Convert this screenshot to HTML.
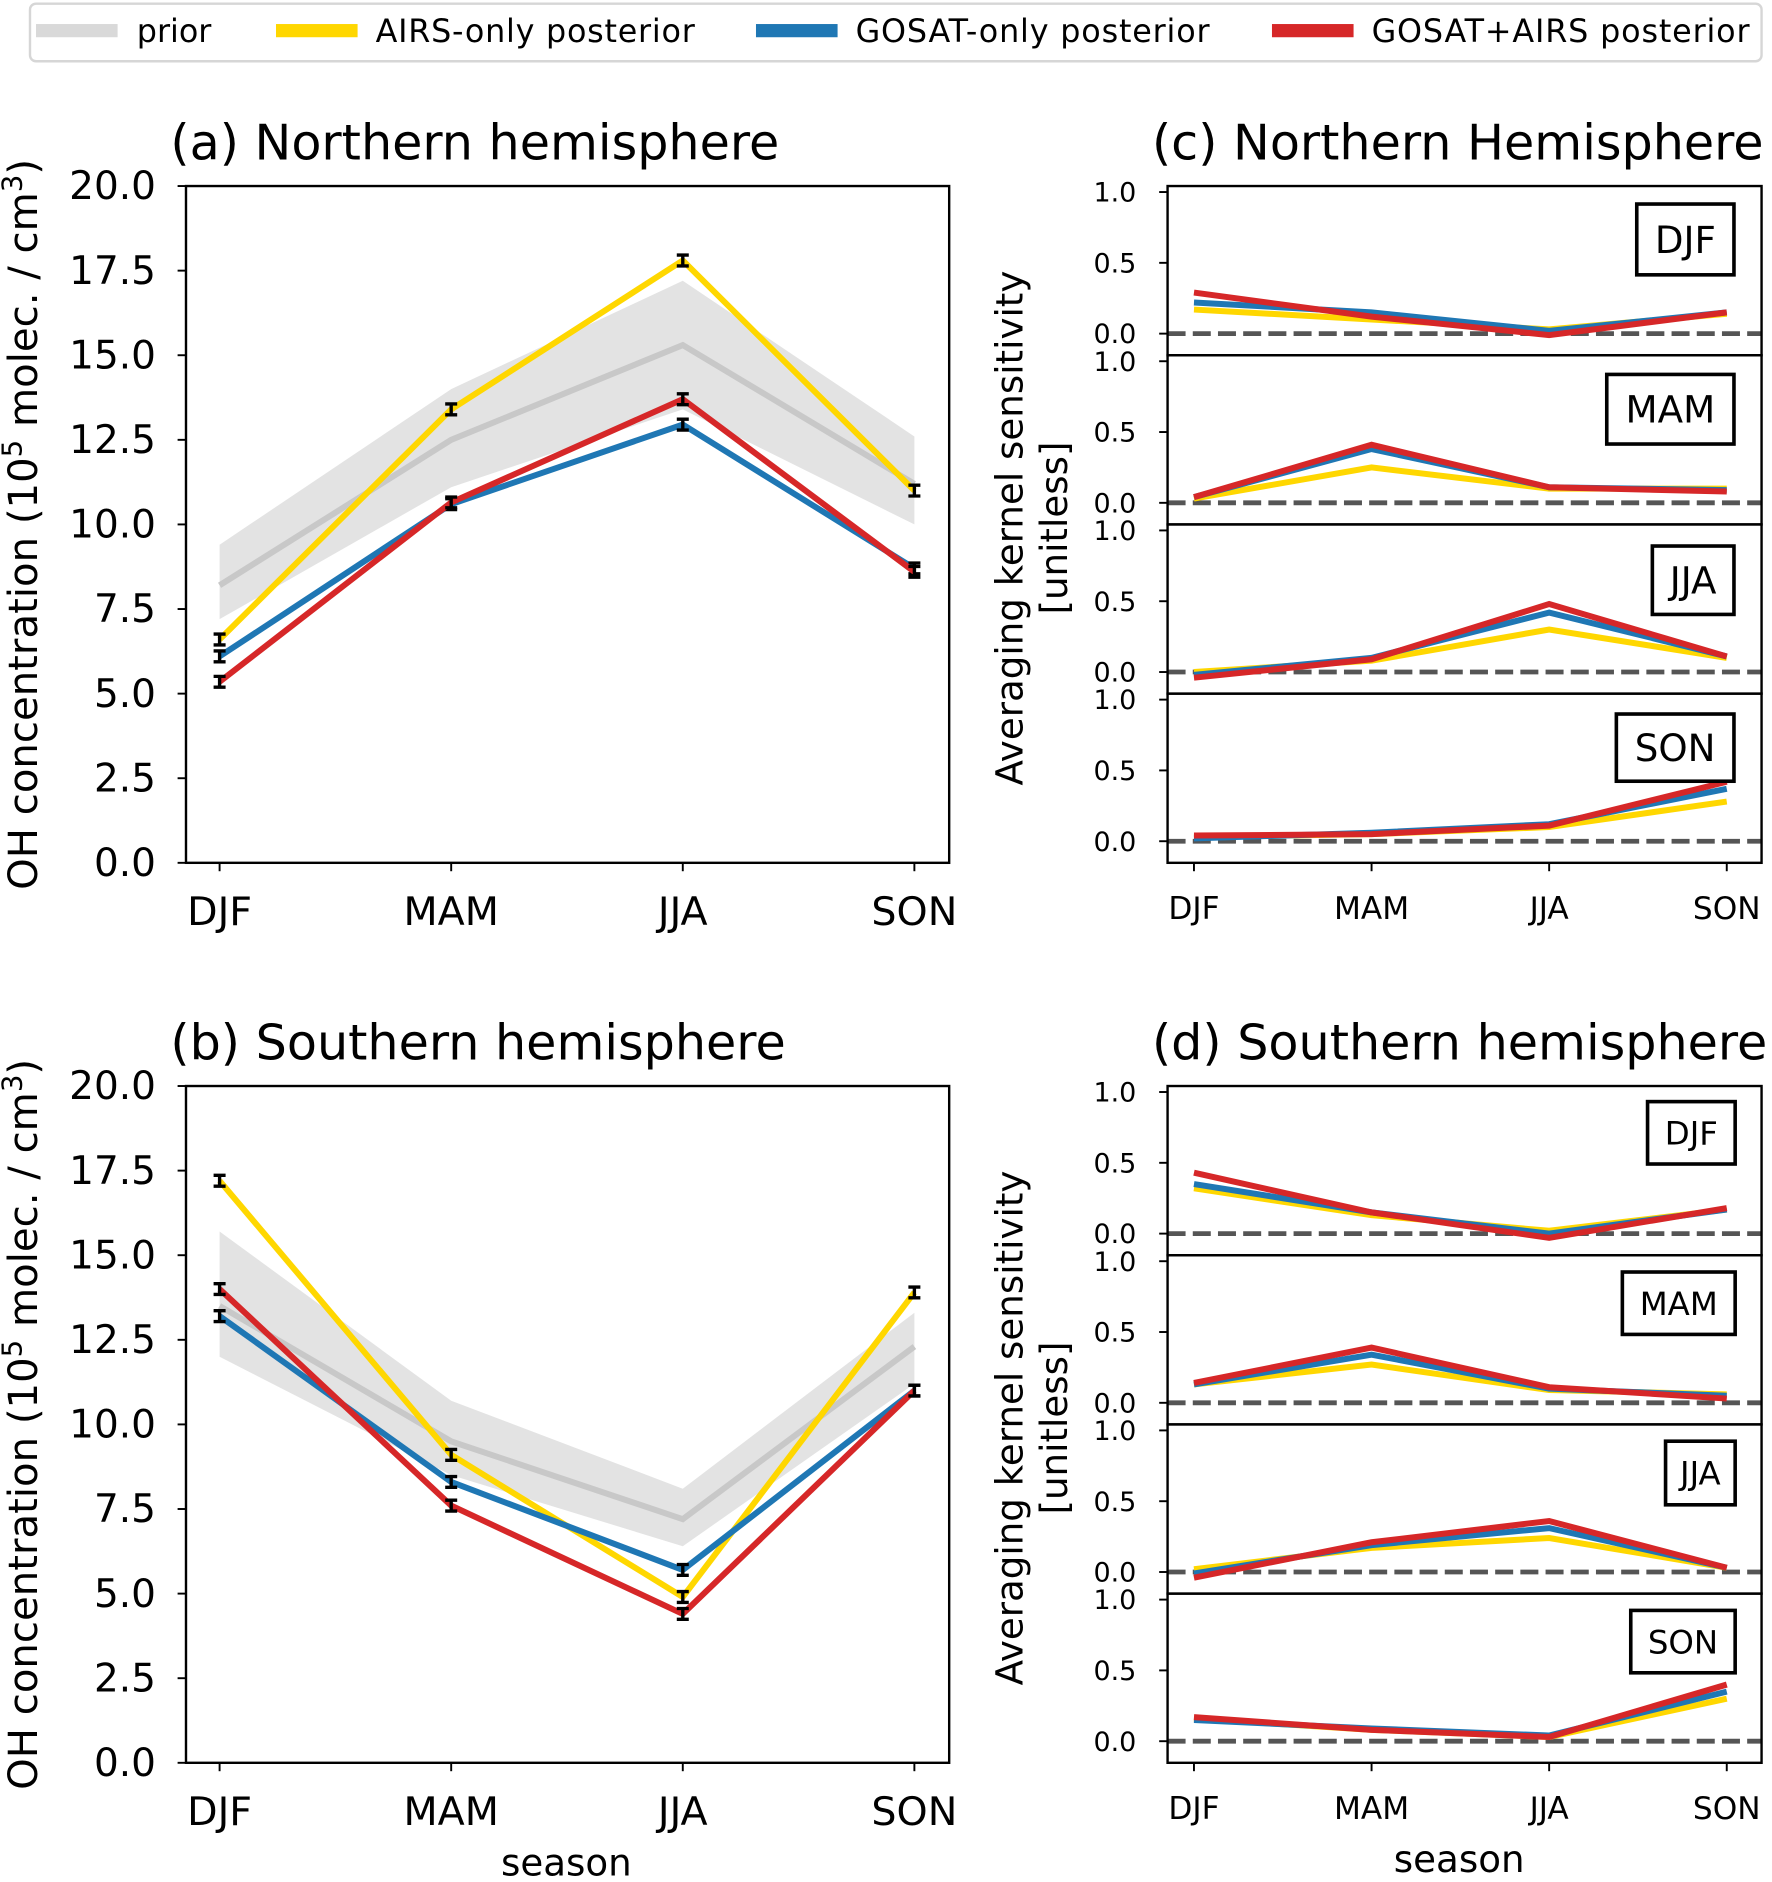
<!DOCTYPE html>
<html><head><meta charset="utf-8"><style>
html,body{margin:0;padding:0;background:#fff;}
svg{display:block;font-family:"DejaVu Sans","Liberation Sans",sans-serif;}
</style></head><body>
<svg id="fig" width="1772" height="1882" viewBox="0 0 1476.7 1568.3" xmlns="http://www.w3.org/2000/svg">
<g>
<rect x="25" y="3" width="1443" height="48" rx="5" fill="#fff" stroke="#d6d6d6" stroke-width="2"/>
<g><rect x="30" y="20" width="68" height="11" fill="#d9d9d9"/><text x="114" y="35" font-size="26.5">prior</text></g>
<g><rect x="230" y="20" width="68" height="11" fill="#ffd700"/><text x="313" y="35" font-size="26.5" textLength="266">AIRS-only posterior</text></g>
<g><rect x="630" y="20" width="68" height="11" fill="#1f77b4"/><text x="713" y="35" font-size="26.5" textLength="295">GOSAT-only posterior</text></g>
<g><rect x="1060" y="20" width="68" height="11" fill="#d62728"/><text x="1143" y="35" font-size="26.5" textLength="315">GOSAT+AIRS posterior</text></g>
</g>
</svg>
<script>
const seasons = ["DJF","MAM","JJA","SON"];
// panel (a) NH
const aPrior = [8.2,12.5,15.3,11.2];
const aPriorLo = [7.2,11.1,13.4,10.0];
const aPriorHi = [9.4,14.0,17.2,12.6];
const aAirs = [6.6,13.4,17.8,11.0];
const aGosat = [6.1,10.6,12.95,8.7];
const aComb = [5.35,10.65,13.7,8.6];
// panel (b) SH
const bPrior = [13.5,9.5,7.2,12.3];
const bPriorLo = [12.0,8.5,6.4,11.2];
const bPriorHi = [15.7,10.7,8.1,13.3];
const bAirs = [17.2,9.1,4.9,13.9];
const bGosat = [13.2,8.3,5.7,11.0];
const bComb = [14.0,7.6,4.4,11.0];
const errSize = 0.16;
const concTicks = ["0.0","2.5","5.0","7.5","10.0","12.5","15.0","17.5","20.0"];
const akTicks = ["0.0","0.5","1.0"];
const subLabels = ["DJF","MAM","JJA","SON"];
// averaging kernels NH (c)
const cAirs = [[0.17,0.1,0.03,0.14],[0.03,0.25,0.1,0.1],[0.0,0.08,0.3,0.1],[0.03,0.05,0.1,0.28]];
const cGosat = [[0.22,0.15,0.02,0.15],[0.04,0.38,0.11,0.09],[-0.02,0.1,0.42,0.11],[0.02,0.06,0.12,0.37]];
const cComb = [[0.29,0.12,-0.01,0.15],[0.04,0.41,0.11,0.08],[-0.04,0.09,0.48,0.11],[0.04,0.05,0.11,0.42]];
// averaging kernels SH (d)
const dAirs = [[0.32,0.13,0.02,0.17],[0.13,0.27,0.09,0.06],[0.02,0.17,0.24,0.03],[0.16,0.08,0.03,0.3]];
const dGosat = [[0.35,0.15,0.0,0.17],[0.13,0.34,0.1,0.05],[-0.01,0.19,0.31,0.03],[0.15,0.09,0.04,0.35]];
const dComb = [[0.43,0.15,-0.03,0.18],[0.14,0.39,0.11,0.03],[-0.04,0.21,0.36,0.03],[0.17,0.08,0.03,0.4]];

const NS="http://www.w3.org/2000/svg";
const svg=document.getElementById("fig");
function el(tag,attrs,parent,text){const e=document.createElementNS(NS,tag);for(const k in attrs)e.setAttribute(k,attrs[k]);if(text!==undefined)e.textContent=text;(parent||svg).appendChild(e);return e;}
const C={prior:"#c8c8c8",band:"#e3e3e3",airs:"#ffd700",gosat:"#1f77b4",comb:"#d62728"};

function concPanel(name,top,title,prior,lo,hi,airs,gosat,comb,showSeason){
  const L=155,R=791,T=top,B=top+564;
  const xs=i=>183+i*193;
  const ys=v=>B-(v/20)*(B-T);
  const g=el("g",{});
  
  
  const t=el("text",{x:142,y:T-22,"font-size":41},g,title);
  
  let pts=[];for(let i=0;i<4;i++)pts.push(xs(i)+","+ys(hi[i]));for(let i=3;i>=0;i--)pts.push(xs(i)+","+ys(lo[i]));
  const band=el("polygon",{points:pts.join(" "),fill:C.band},g);
  
  const series=[["prior-line",prior,C.prior,false],["airs-line",airs,C.airs,true],["gosat-line",gosat,C.gosat,true],["combined-line",comb,C.comb,true]];
  series.forEach(s=>{
    const pl=el("polyline",{points:s[1].map((v,i)=>xs(i)+","+ys(v)).join(" "),fill:"none",stroke:s[2],"stroke-width":5},g);
    
    if(s[3]) s[1].forEach((v,i)=>{
      const eb=el("path",{d:`M${xs(i)-5},${ys(v+errSize)}H${xs(i)+5}M${xs(i)},${ys(v+errSize)}V${ys(v-errSize)}M${xs(i)-5},${ys(v-errSize)}H${xs(i)+5}`,stroke:"#000","stroke-width":2.8,fill:"none"},g);
      
    });
  });
  const fr=el("rect",{x:L,y:T,width:R-L,height:B-T,fill:"none",stroke:"#000","stroke-width":2},g);
  
  concTicks.forEach(tk=>{const y=ys(parseFloat(tk));
    el("line",{x1:L-7,x2:L,y1:y,y2:y,stroke:"#000","stroke-width":1.6},g);
    const tl=el("text",{x:L-25,y:y+11,"font-size":32.5,"text-anchor":"end"},g,tk);
    });
  seasons.forEach((s,i)=>{el("line",{x1:xs(i),x2:xs(i),y1:B,y2:B+7,stroke:"#000","stroke-width":1.6},g);
    const tl=el("text",{x:xs(i),y:B+52,"font-size":33,"text-anchor":"middle"},g,s);
    });
  const yl=el("text",{transform:`translate(31,${(T+B)/2}) rotate(-90)`,"font-size":33.5,"text-anchor":"middle"},g);
  
  yl.innerHTML='OH concentration (10<tspan dy="-13" font-size="23">5</tspan><tspan dy="13"> molec. / cm</tspan><tspan dy="-13" font-size="23">3</tspan><tspan dy="13">)</tspan>';
  if(showSeason){const st=el("text",{x:472,y:B+94,"font-size":31,"text-anchor":"middle"},g,"season");
    }
}
concPanel("panel-a-northern",155,"(a) Northern hemisphere",aPrior,aPriorLo,aPriorHi,aAirs,aGosat,aComb,false);
concPanel("panel-b-southern",905,"(b) Southern hemisphere",bPrior,bPriorLo,bPriorHi,bAirs,bGosat,bComb,true);

function akPanel(name,top,title,airs,gosat,comb,boxes,fs,showSeason){
  const L=973,R=1468,H=141;
  const xs=i=>995+i*148;
  const g=el("g",{});
  
  const t=el("text",{x:960,y:top-22,"font-size":41},g,title);
  
  for(let k=0;k<4;k++){
    const T=top+k*H;
    const ys=v=>T+5+(1-v)*118;
    const sg=el("g",{},g);
    
    const dl=el("line",{x1:L,x2:R,y1:ys(0),y2:ys(0),stroke:"#555","stroke-width":4,"stroke-dasharray":"15,6"},sg);
    
    [["airs-line",airs[k],C.airs],["gosat-line",gosat[k],C.gosat],["combined-line",comb[k],C.comb]].forEach(s=>{
      const pl=el("polyline",{points:s[1].map((v,i)=>xs(i)+","+ys(v)).join(" "),fill:"none",stroke:s[2],"stroke-width":5},sg);
      });
    const fr=el("rect",{x:L,y:T,width:R-L,height:H,fill:"none",stroke:"#000","stroke-width":2},sg);
    
    akTicks.forEach(tk=>{const y=ys(parseFloat(tk));
      el("line",{x1:L-7,x2:L,y1:y,y2:y,stroke:"#000","stroke-width":1.6},sg);
      const tl=el("text",{x:L-26,y:y+8,"font-size":22.5,"text-anchor":"end"},sg,tk);
      });
    const b=boxes[k];
    const bx=el("rect",{x:b[0],y:T+b[1],width:b[2],height:b[3],fill:"#fff",stroke:"#000","stroke-width":3},sg);
    
    const bt=el("text",{x:b[0]+b[2]/2,y:T+b[1]+b[3]/2+fs*0.36,"font-size":fs,"text-anchor":"middle"},sg,subLabels[k]);
    
  }
  const B=top+4*H;
  seasons.forEach((s,i)=>{el("line",{x1:xs(i),x2:xs(i),y1:B,y2:B+7,stroke:"#000","stroke-width":1.6},g);
    const tl=el("text",{x:xs(i),y:B+47,"font-size":26,"text-anchor":"middle"},g,s);
    });
  const yl=el("text",{transform:`translate(852,${top+285}) rotate(-90)`,"font-size":31,"text-anchor":"middle"},g,"Averaging kernel sensitivity");
  
  const yl2=el("text",{transform:`translate(889,${top+285}) rotate(-90)`,"font-size":31,"text-anchor":"middle"},g,"[unitless]");
  
  if(showSeason){const st=el("text",{x:1216,y:B+91,"font-size":31,"text-anchor":"middle"},g,"season");
    }
}
akPanel("panel-c-northern-ak",155,"(c) Northern Hemisphere",cAirs,cGosat,cComb,
  [[1364,15,81,59],[1339,16,106,58],[1377,18,68,57],[1347,17,98,56]],31,false);
akPanel("panel-d-southern-ak",905,"(d) Southern hemisphere",dAirs,dGosat,dComb,
  [[1373,13,73,52],[1352,14,94,52],[1388,14,58,53],[1359,14,87,52]],27,true);
</script>
</body></html>
